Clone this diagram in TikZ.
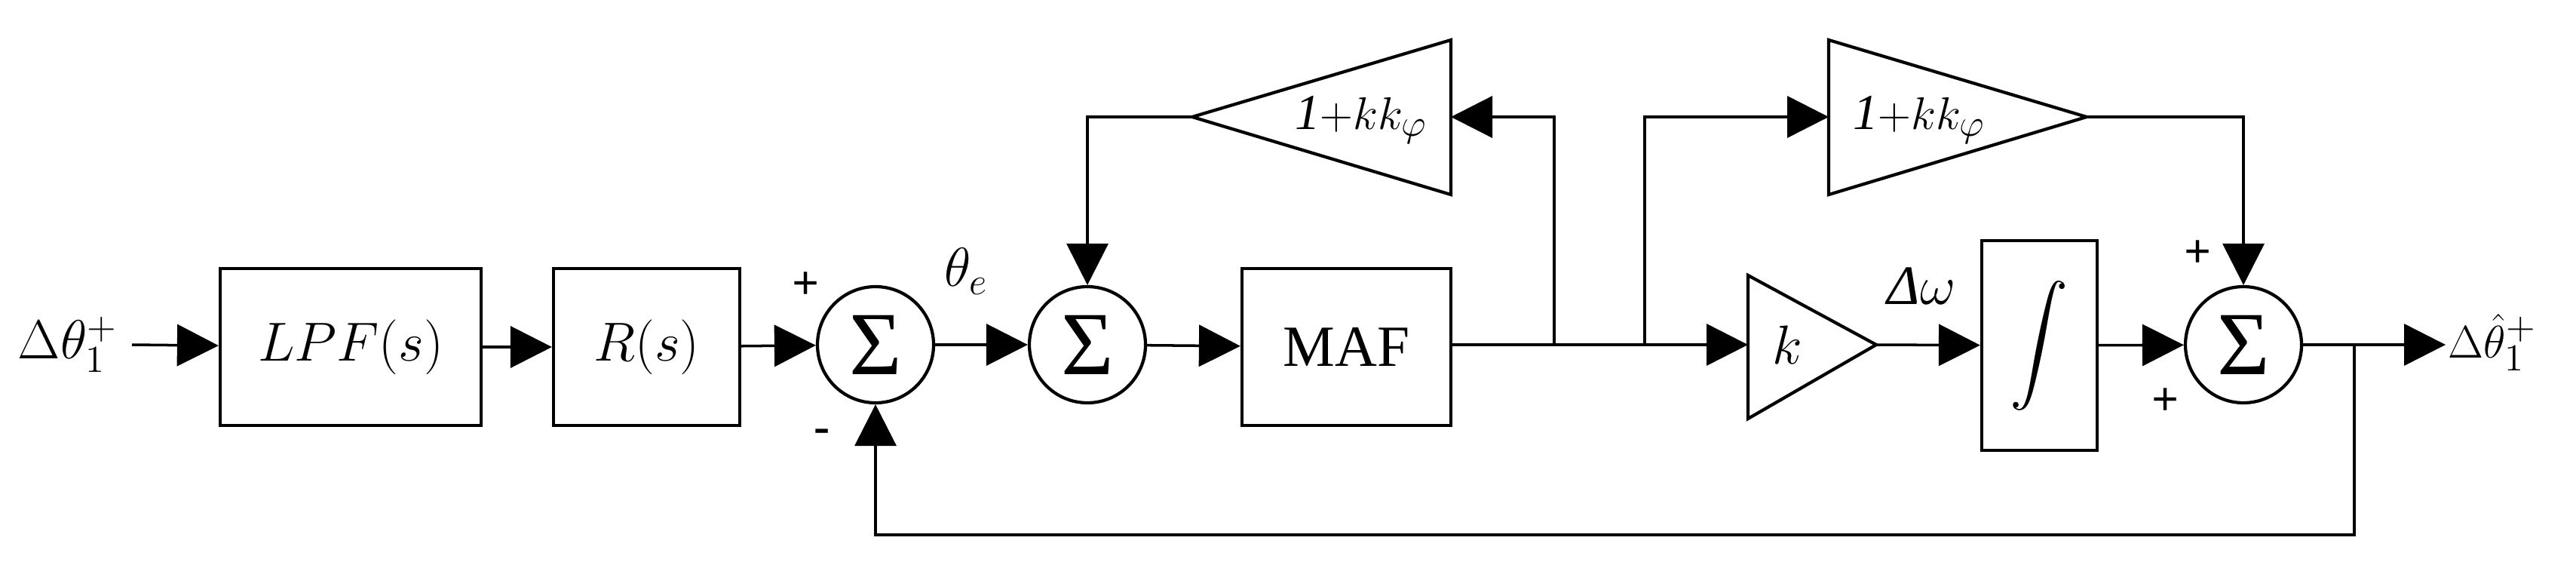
\documentclass[tikz,border=0pt]{standalone}
\usepackage{fontspec}
\usepackage{graphicx}
\setmainfont{Liberation Serif}
\usetikzlibrary{arrows.meta}
\begin{document}
\begin{tikzpicture}[
  line width=1pt,
  >={Triangle[length=5.5mm,width=5.5mm]},
  blk/.style={draw,line width=1.2pt,inner sep=0pt,font=\fontsize{22}{26}\selectfont},
  sm/.style={draw,circle,minimum size=1.54cm,inner sep=0pt,line width=1.2pt,font=\fontsize{34}{36}\selectfont},
  lbl/.style={font=\fontsize{21}{26}\selectfont,inner sep=0pt},
  tl/.style={font=\fontsize{19}{22}\selectfont,inner sep=0pt},
  sg/.style={font=\fontsize{18}{20}\selectfont\bfseries,inner sep=0pt}]
\useasboundingbox (0,0) rectangle (34.16,7.44);
\node[lbl,anchor=west] (in) at (0.22,2.87) {$\Delta\theta_1^{+}$};
\coordinate (inS) at (1.75,2.87);
\node[blk,minimum width=3.46cm,minimum height=2.08cm] (lpf) at (4.65,2.84) {$LPF(s)$};
\node[blk,minimum width=2.47cm,minimum height=2.08cm] (rs) at (8.575,2.84) {$R(s)$};
\node[sm] (s1) at (11.61,2.87) {Σ};
\node[sm] (s2) at (14.42,2.87) {Σ};
\node[blk,minimum width=2.77cm,minimum height=2.08cm] (maf) at (17.855,2.84) {MAF};
\node[blk,minimum width=1.53cm,minimum height=2.78cm] (int) at (27.045,2.86) {\scalebox{2.2}{$\displaystyle\int$}};
\node[sm] (s3) at (29.75,2.87) {Σ};
% triangles
\draw[line width=1.2pt] (19.24,6.91) -- (19.24,4.86) -- (15.81,5.89) -- cycle;
\coordinate (t1in) at (19.24,5.89); \coordinate (t1out) at (15.81,5.89);
\node[tl] (t1) at (18.05,5.85) {\textit{1}$+kk_{\varphi}$};
\draw[line width=1.2pt] (24.25,6.91) -- (24.25,4.86) -- (27.67,5.89) -- cycle;
\coordinate (t2in) at (24.25,5.89); \coordinate (t2out) at (27.67,5.89);
\node[tl] (t2) at (25.45,5.85) {\textit{1}$+kk_{\varphi}$};
\draw[line width=1.2pt] (23.18,3.79) -- (23.18,1.89) -- (24.88,2.87) -- cycle;
\coordinate (kin) at (23.18,2.87); \coordinate (kout) at (24.88,2.87);
\node[lbl] (kt) at (23.7,2.87) {$k$};
% connections
\draw[->] (inS) -- (lpf);
\draw[->] (lpf) -- (rs);
\draw[->] (rs) -- (s1);
\draw[->] (s1) -- (s2);
\draw[->] (s2) -- (maf);
\coordinate (b1) at (20.61,2.87);
\coordinate (b2) at (21.81,2.87);
\draw[->] (maf.east|-b1) -- (kin);
\draw[->] (b1) |- (t1in);
\draw[->] (b2) |- (t2in);
\draw[->] (t1out) -| (s2.north);
\draw[->] (t2out) -| (s3.north);
\draw[->] (kout) -- (int);
\draw[->] (int) -- (s3);
\coordinate (b3) at (31.22,2.87);
\coordinate (outE) at (32.43,2.87);
\draw[->] (s3) -- (outE);
\draw[->] (b3) -- (31.22,0.35) -| (s1.south);
\node[tl,anchor=west] (out) at (32.45,2.9) {$\Delta\hat{\theta}_1^{+}$};
% labels
\node[sg] at (10.69,3.65) {+};
\node[sg] at (10.90,1.66) {-};
\node[lbl] at (12.81,3.84) {$\theta_e$};
\node[lbl] at (25.48,3.65) {\textit{Δ}$\omega$};
\node[sg] at (29.14,4.07) {+};
\node[sg] at (28.71,2.11) {+};
\end{tikzpicture}
\end{document}
